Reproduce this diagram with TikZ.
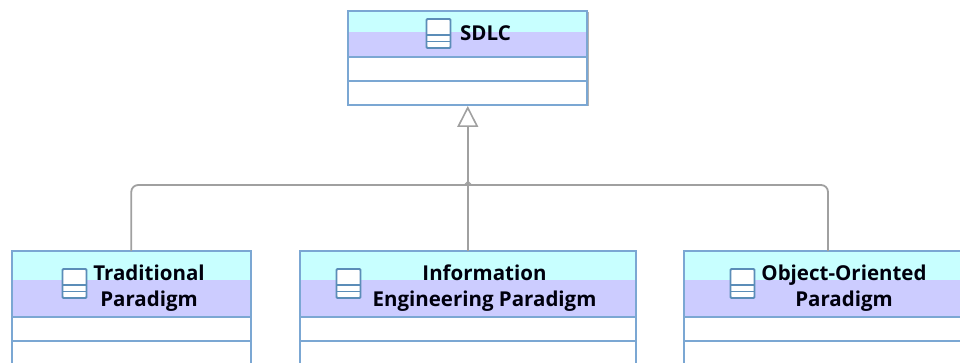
\documentclass[tikz,border=0pt]{standalone}
\usepackage{fontspec}
\setmainfont{Open Sans}
\usetikzlibrary{arrows.meta,shadows}

\definecolor{bandtop}{HTML}{C8FFFF}
\definecolor{bandlow}{HTML}{CCCCFF}
\definecolor{classblue}{HTML}{7BA7D3}
\definecolor{iconblue}{HTML}{5B8DB8}
\definecolor{linkgray}{HTML}{A0A0A0}

\tikzset{
  classbox/.style={draw=classblue,line width=2pt,fill=white,anchor=north west,inner sep=0pt,outer sep=0pt,
    drop shadow={shadow xshift=1.5pt,shadow yshift=-1.5pt,fill=black!30,opacity=1}},
  bandbox/.style={anchor=north west,inner sep=0pt,outer sep=0pt},
  classline/.style={draw=classblue,line width=1.5pt},
  icon/.style={draw=iconblue,line width=1.8pt,rounded corners=1pt},
  iconline/.style={draw=iconblue,line width=1.5pt},
  classtitle/.style={font=\bfseries\fontsize{20.5}{26}\selectfont,align=center,text=black!95!blue,inner sep=0pt},
  link/.style={draw=linkgray,line width=1.8pt,rounded corners=7pt},
}

% name, x, y, width, cyan height, lavender height
\newcommand\classshape[6]{
  \node[classbox,minimum width=#4pt,minimum height={#5+#6+49pt}] (#1) at (#2,#3) {};
  \node[bandbox,fill=bandtop,minimum width={#4-2pt},minimum height=#5pt] (#1-top) at (#2+1,#3+1) {};
  \node[bandbox,fill=bandlow,minimum width={#4-2pt},minimum height=#6pt] (#1-low) at (#2+1,#3+1+#5) {};
  \draw[classline](#2,#3+1+#5+#6)--(#2+#4,#3+1+#5+#6);
  \draw[classline](#2,#3+25+#5+#6)--(#2+#4,#3+25+#5+#6);
}
% x, y of the upper left corner
\newcommand\classicon[2]{
  \draw[icon,fill=white](#1,#2) rectangle (#1+24,#2+29);
  \draw[iconline](#1,#2+16)--(#1+24,#2+16);
  \draw[iconline](#1,#2+22.5)--(#1+24,#2+22.5);
}

\begin{document}
\begin{tikzpicture}[x=1pt,y=-1pt]

\clip(0,0) rectangle (960,363);

\classshape{sdlc}{348}{11}{239}{20}{25}
\classshape{trad}{12}{251}{238.5}{28}{37}
\classshape{info}{300}{251}{335.5}{28}{37}
\classshape{oo}{684}{251}{288}{28}{37}

\classicon{426.5}{19}
\classicon{62.5}{269}
\classicon{336.5}{269}
\classicon{730.5}{269}

\node[classtitle] (sdlc-title) at (485.5,33) {SDLC};
\node[classtitle] (trad-title) at (149,288) {Traditional\\Paradigm};
\node[classtitle] (info-title) at (484.5,288) {Information\\Engineering Paradigm};
\node[classtitle] (oo-title) at (844,288) {Object-Oriented\\Paradigm};

\coordinate (joint) at (info.north |- 0,185);

\draw[link](trad.north) |- (joint);
\draw[link](oo.north) |- (joint);
\draw[link,shorten >=1pt,-{Triangle[open,fill=white,length=21pt,width=21pt,line width=1.6pt]}](info.north)--(info.north |- sdlc.south);
\draw[draw=linkgray,line width=1.2pt](464.5,185)--(468,181.5)--(471.5,185);

\end{tikzpicture}
\end{document}
